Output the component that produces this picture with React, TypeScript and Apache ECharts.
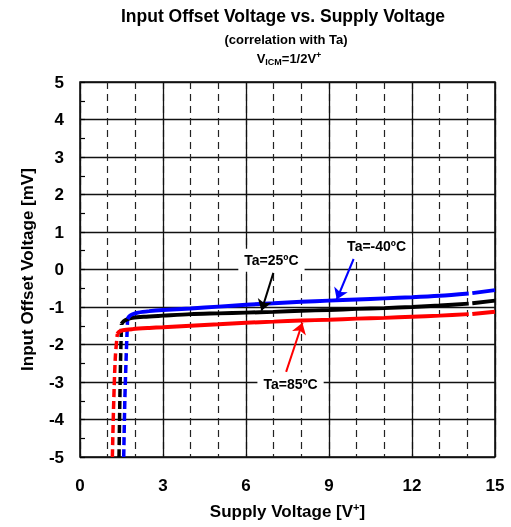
import React, { useEffect, useRef } from "react";
import * as echarts from "echarts";

const FONT = "'Liberation Sans', Arial, Helvetica, sans-serif";

const xTickLabels = [0, 3, 6, 9, 12, 15];

// Ta = -40ºC (blue)
const blueSolid: [number, number][] = [
  [1.72, -1.32], [1.78, -1.25], [1.88, -1.2], [2.1, -1.15], [2.5, -1.11], [3, -1.08],
  [4, -1.04], [5, -0.99], [6, -0.94], [7, -0.9], [8, -0.86], [9, -0.83], [10, -0.8],
  [11, -0.77], [12, -0.74], [13, -0.7], [14.05, -0.64],
];
const blueTail: [number, number][] = [[14.18, -0.63], [15, -0.55]];
const blueLow: [number, number][] = [[1.58, -5], [1.62, -3.5], [1.67, -2.3], [1.72, -1.32]];

// Ta = 25ºC (black)
const blackSolid: [number, number][] = [
  [1.5, -1.45], [1.58, -1.38], [1.7, -1.33], [1.9, -1.29], [2.3, -1.26], [3, -1.23],
  [4, -1.19], [5, -1.17], [6, -1.15], [7, -1.13], [8, -1.1], [9, -1.08], [10, -1.05],
  [11, -1.03], [12, -1.0], [13, -0.96], [14.05, -0.91],
];
const blackTail: [number, number][] = [[14.18, -0.9], [15, -0.83]];
const blackLow: [number, number][] = [[1.41, -5], [1.44, -3.5], [1.47, -2.3], [1.5, -1.45]];

// Ta = 85ºC (red)
const redSolid: [number, number][] = [
  [1.35, -1.72], [1.42, -1.66], [1.55, -1.62], [1.9, -1.59], [2.5, -1.56], [3, -1.54],
  [4, -1.5], [5, -1.46], [6, -1.42], [7, -1.39], [8, -1.36], [9, -1.34], [10, -1.31],
  [11, -1.29], [12, -1.26], [13, -1.23], [14.05, -1.19],
];
const redTail: [number, number][] = [[14.18, -1.185], [15, -1.125]];
const redLow: [number, number][] = [[1.17, -5], [1.22, -3.5], [1.28, -2.3], [1.35, -1.72]];

// annotations: [label, labelPos, arrowStart, arrowTip, color]
const annLabels = ["Ta=25ºC", "Ta=-40ºC", "Ta=85ºC"];
const annLabelPos: [number, number][] = [[6.92, 0.25], [10.72, 0.63], [7.61, -3.05]];
const annArrowFrom: [number, number][] = [[6.99, -0.09], [9.89, 0.28], [7.45, -2.73]];
const annArrowTo: [number, number][] = [[6.56, -1.1], [9.28, -0.8], [8.04, -1.42]];
const annColors = ["#000000", "#0000ff", "#ff0000"];

const BLUE = "#0000ff";
const RED = "#ff0000";
const BLACK = "#000000";

function lineSeries(data: [number, number][], color: string, dashed: boolean, z = 3) {
  return {
    type: "line",
    data,
    showSymbol: false,
    symbol: "none",
    smooth: 0.3,
    silent: true,
    z,
    lineStyle: { color, width: dashed ? 3.5 : 4, type: dashed ? [8, 4] : "solid", cap: "butt" },
  };
}

export default function App() {
  const ref = useRef<HTMLDivElement>(null);
  useEffect(() => {
    if (!ref.current) return;
    const chart = echarts.init(ref.current, undefined, { renderer: "svg" });
    const axisFont = { fontFamily: FONT, fontWeight: "bold" as const, fontSize: 17, color: "#000" };
    const option: any = {
      animation: false,
      grid: {
        left: 80, right: 16, top: 82, bottom: 70,
        show: true, borderColor: "#000", borderWidth: 1.5, backgroundColor: "transparent",
      },
      graphic: [
        {
          type: "text", x: 283, y: 16,
          style: { text: "Input Offset Voltage vs. Supply Voltage", font: `bold 17.5px ${FONT}`, fill: "#000", textAlign: "center", textVerticalAlign: "middle" },
        },
        {
          type: "text", x: 286, y: 39,
          style: { text: "(correlation with Ta)", font: `bold 13px ${FONT}`, fill: "#000", textAlign: "center", textVerticalAlign: "middle" },
        },
        {
          type: "text", x: 289, y: 58,
          style: {
            text: "{a|V}{b|ICM}{a|=1/2V}{c|+}",
            textAlign: "center", textVerticalAlign: "middle",
            rich: {
              a: { fontFamily: FONT, fontWeight: "bold", fontSize: 13, lineHeight: 16, fill: "#000" },
              b: { fontFamily: FONT, fontWeight: "bold", fontSize: 9, lineHeight: 9, verticalAlign: "bottom", fill: "#000" },
              c: { fontFamily: FONT, fontWeight: "bold", fontSize: 9, lineHeight: 9, verticalAlign: "top", fill: "#000" },
            },
          },
        },
      ],
      xAxis: [
        {
          type: "value", min: 0, max: 15, interval: 3, position: "bottom",
          axisLine: { show: false }, axisTick: { show: false },
          axisLabel: { ...axisFont, margin: 20, formatter: (v: number) => (xTickLabels.includes(v) ? String(v) : "") },
          splitLine: { show: true, lineStyle: { color: "#111", width: 1.3, type: "solid" } },
          name: "{a|Supply Voltage [V}{b|+}{a|]}",
          nameLocation: "middle", nameGap: 44,
          nameTextStyle: {
            rich: {
              a: { fontFamily: FONT, fontWeight: "bold", fontSize: 17, lineHeight: 20, color: "#000" },
              b: { fontFamily: FONT, fontWeight: "bold", fontSize: 11, lineHeight: 11, verticalAlign: "top", color: "#000" },
            },
          },
          z: 1,
        },
        {
          type: "value", min: 0, max: 15, interval: 1, position: "bottom",
          axisLine: { show: false }, axisTick: { show: false }, axisLabel: { show: false },
          splitLine: { show: true, lineStyle: { color: "#222", width: 1.2, type: [7, 5] } },
          z: 0,
        },
      ],
      yAxis: [
        {
          type: "value", min: -5, max: 5, interval: 1, position: "left",
          axisLine: { show: false }, axisTick: { show: false },
          axisLabel: { ...axisFont, margin: 16 },
          splitLine: { show: true, lineStyle: { color: "#111", width: 1.3, type: "solid" } },
          name: "Input Offset Voltage [mV]",
          nameLocation: "middle", nameGap: 44,
          nameTextStyle: { ...axisFont },
        },
        {
          type: "value", min: -5, max: 5, interval: 0.5, position: "left",
          axisLine: { show: false },
          axisTick: { show: true, inside: true, length: 5, lineStyle: { color: "#000", width: 1.2 } },
          axisLabel: { show: false }, splitLine: { show: false },
        },
      ],
      series: [
        lineSeries(redLow, RED, true),
        lineSeries(blackLow, BLACK, true),
        lineSeries(blueLow, BLUE, true),
        lineSeries(redSolid, RED, false),
        lineSeries(redTail, RED, false),
        lineSeries(blackSolid, BLACK, false),
        lineSeries(blackTail, BLACK, false),
        lineSeries(blueSolid, BLUE, false),
        lineSeries(blueTail, BLUE, false),
        {
          type: "line",
          data: [],
          silent: true,
          z: 5,
          markLine: {
            silent: true,
            symbol: ["none", "arrow"],
            symbolSize: 11,
            label: { show: false },
            emphasis: { disabled: true },
            data: annArrowFrom.map((p, i) => [
              { coord: p, lineStyle: { color: annColors[i], width: 2, type: "solid" } },
              { coord: annArrowTo[i] },
            ]),
          },
          markPoint: {
            silent: true,
            symbol: "rect",
            symbolSize: 1,
            itemStyle: { color: "rgba(0,0,0,0)" },
            label: {
              show: true, position: "inside",
              fontFamily: FONT, fontWeight: "bold", fontSize: 14, color: "#000",
              backgroundColor: "#fff", padding: [5, 6, 4, 6],
              formatter: (p: any) => p.name,
            },
            data: annLabels.map((name, i) => ({ name, coord: annLabelPos[i] })),
          },
        },
      ],
    };
    chart.setOption(option);
    return () => chart.dispose();
  }, []);
  return <div ref={ref} style={{ position: "fixed", left: 0, top: 0, width: 511, height: 527 }} />;
}
